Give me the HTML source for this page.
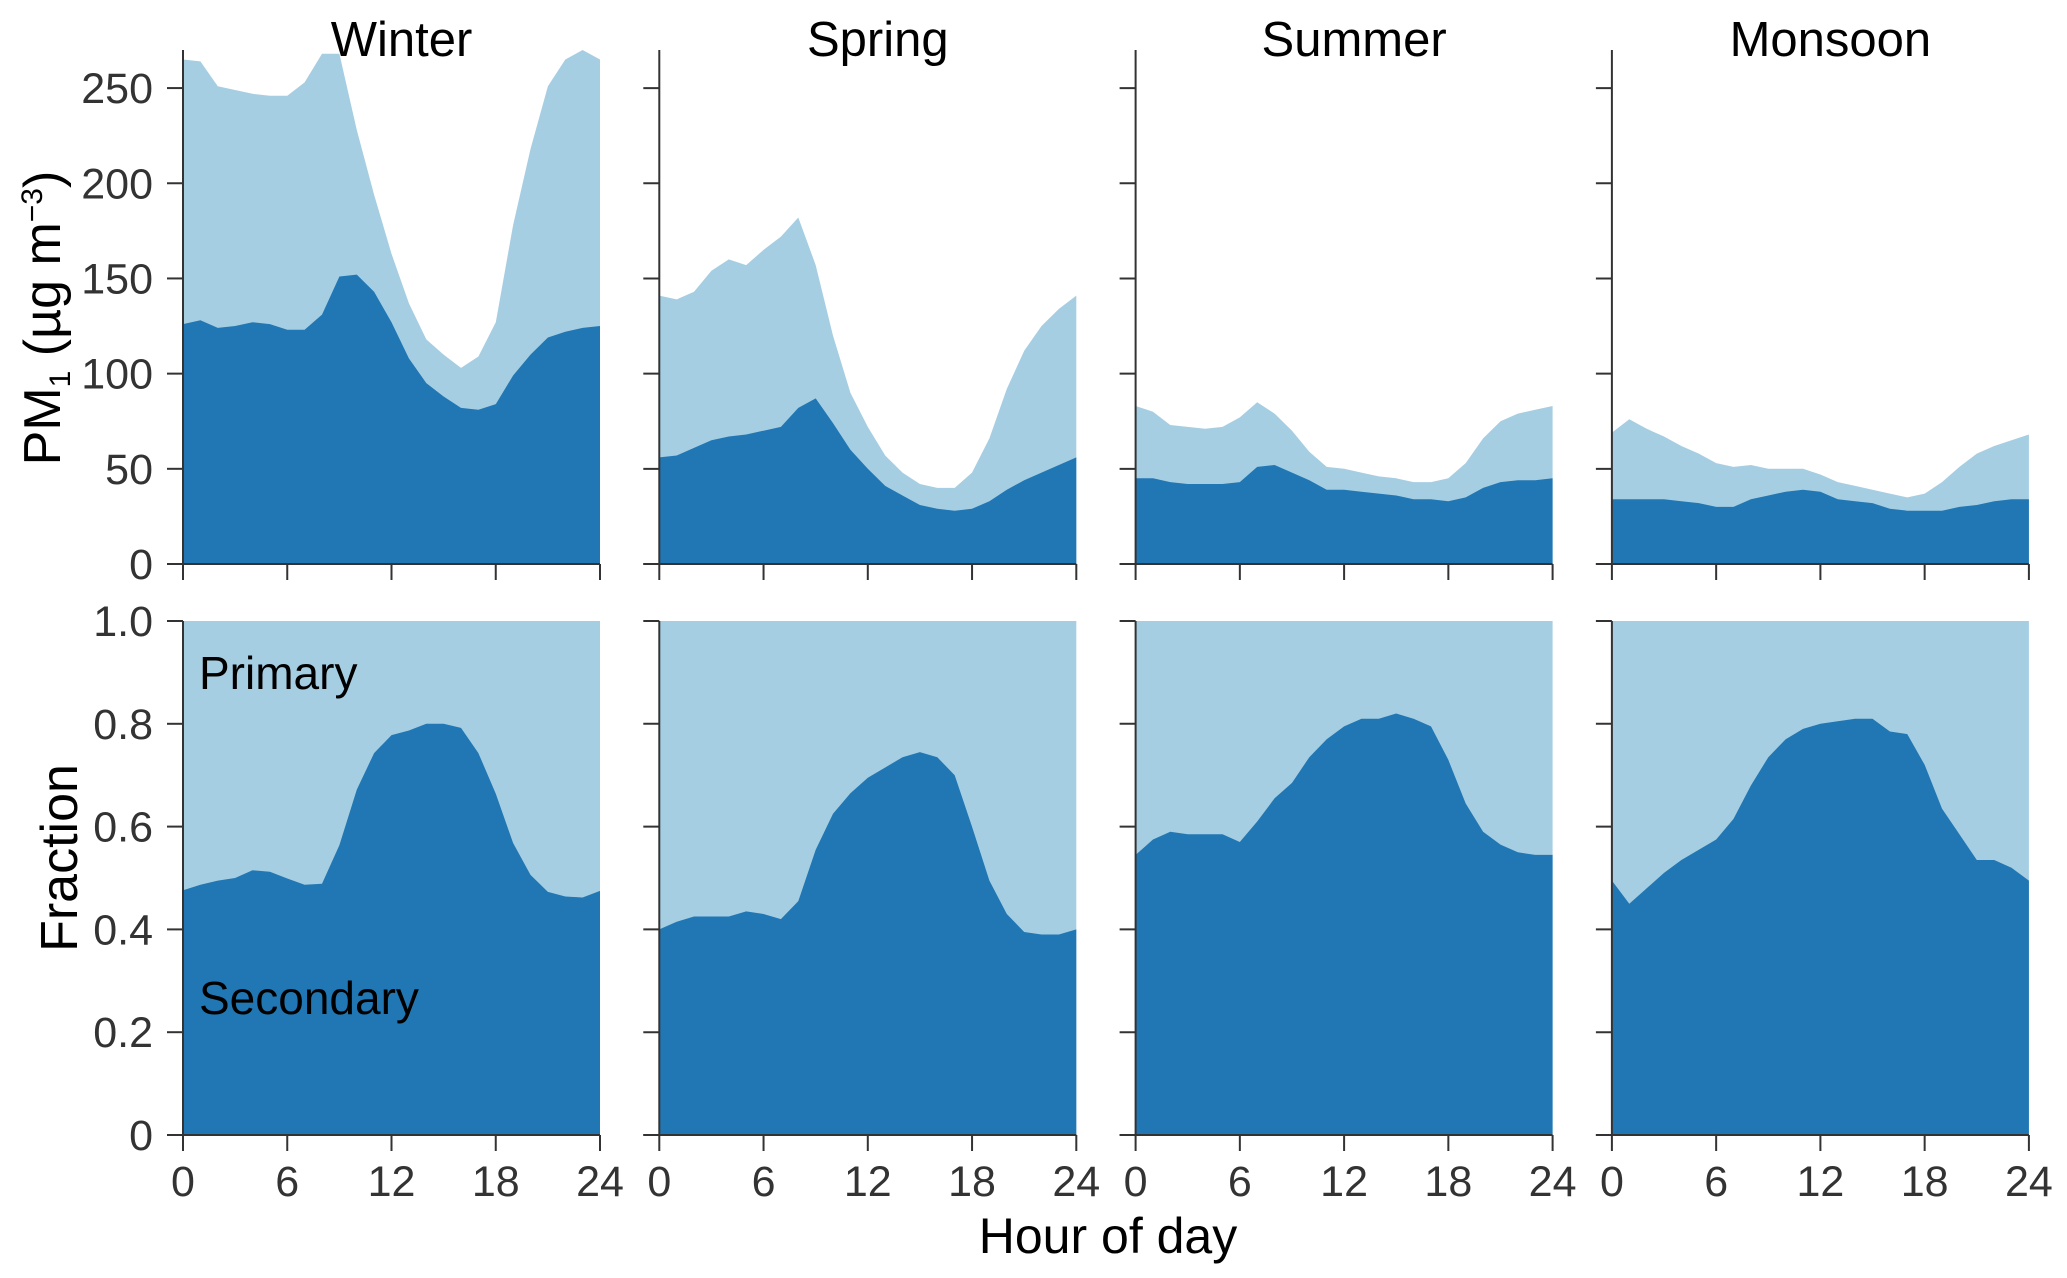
<!DOCTYPE html>
<html><head><meta charset="utf-8"><style>
html,body{margin:0;padding:0;background:#fff;}
svg{display:block;font-family:"Liberation Sans",Arial,sans-serif;}
</style></head><body>
<svg id="chart" width="2067" height="1278" viewBox="0 0 2067 1278" xmlns="http://www.w3.org/2000/svg"></svg>
<script>
const seasons = ["Winter","Spring","Summer","Monsoon"];
const hours = [0,1,2,3,4,5,6,7,8,9,10,11,12,13,14,15,16,17,18,19,20,21,22,23,24];
const totalWinter = [265,264,251,249,247,246,246,253,268,268,228,194,163,137,118,110,103,109,127,178,218,251,265,270,265];
const secWinter = [126,128,124,125,127,126,123,123,131,151,152,143,127,108,95,88,82,81,84,99,110,119,122,124,125];
const totalSpring = [141,139,143,154,160,157,165,172,182,157,120,90,72,57,48,42,40,40,48,66,92,112,125,134,141];
const secSpring = [56,57,61,65,67,68,70,72,82,87,74,60,50,41,36,31,29,28,29,33,39,44,48,52,56];
const totalSummer = [83,80,73,72,71,72,77,85,79,70,59,51,50,48,46,45,43,43,45,53,66,75,79,81,83];
const secSummer = [45,45,43,42,42,42,43,51,52,48,44,39,39,38,37,36,34,34,33,35,40,43,44,44,45];
const totalMonsoon = [69,76,71,67,62,58,53,51,52,50,50,50,47,43,41,39,37,35,37,43,51,58,62,65,68];
const secMonsoon = [34,34,34,34,33,32,30,30,34,36,38,39,38,34,33,32,29,28,28,28,30,31,33,34,34];
const fracWinter = [0.476,0.487,0.495,0.5,0.515,0.512,0.499,0.487,0.489,0.564,0.672,0.743,0.778,0.787,0.8,0.8,0.792,0.743,0.664,0.568,0.506,0.473,0.464,0.462,0.475];
const fracSpring = [0.40,0.415,0.425,0.425,0.425,0.435,0.43,0.42,0.455,0.555,0.625,0.665,0.695,0.715,0.735,0.745,0.735,0.70,0.60,0.495,0.43,0.395,0.39,0.39,0.40];
const fracSummer = [0.545,0.575,0.59,0.585,0.585,0.585,0.57,0.61,0.655,0.685,0.735,0.77,0.795,0.81,0.81,0.82,0.81,0.795,0.73,0.645,0.59,0.565,0.55,0.545,0.545];
const fracMonsoon = [0.495,0.45,0.48,0.51,0.535,0.555,0.575,0.615,0.68,0.735,0.77,0.79,0.80,0.805,0.81,0.81,0.785,0.78,0.72,0.635,0.585,0.535,0.535,0.52,0.495];
const topTicks = [0,50,100,150,200,250];
const fracTicks = [0,0.2,0.4,0.6,0.8,1.0];
const fracTickLabels = ["0","0.2","0.4","0.6","0.8","1.0"];
const xTicks = [0,6,12,18,24];

const totals=[totalWinter,totalSpring,totalSummer,totalMonsoon];
const secs=[secWinter,secSpring,secSummer,secMonsoon];
const fracs=[fracWinter,fracSpring,fracSummer,fracMonsoon];

const NS="http://www.w3.org/2000/svg";
const svg=document.getElementById('chart');
const PW=417, TOP_Y0=564, TOP_Y1=50, TOP_MAX=270, BOT_Y0=1135, BOT_Y1=621;
const DARK="#2077b4", LIGHT="#a6cee3", AX="#333";
function px(i){return 183+i*476.3;}
function xs(i,h){return px(i)+h/24*PW;}
function yt(v){return TOP_Y0-(v/TOP_MAX)*(TOP_Y0-TOP_Y1);}
function yb(v){return BOT_Y0-v*(BOT_Y0-BOT_Y1);}
function el(tag,attrs,parent){const e=document.createElementNS(NS,tag);for(const k in attrs)e.setAttribute(k,attrs[k]);(parent||svg).appendChild(e);return e;}
function area(i,vals,yf){let d="M"+xs(i,0)+","+yf(0);hours.forEach((h,k)=>{d+=" L"+xs(i,h).toFixed(1)+","+yf(vals[k]).toFixed(1);});d+=" L"+xs(i,24)+","+yf(0)+"Z";return d;}
function txt(s,attrs,parent){const t=el('text',attrs,parent);t.textContent=s;return t;}

seasons.forEach((s,i)=>{
  const g=el('g',{});
  
  
  let a=el('path',{d:area(i,totals[i],yt),fill:LIGHT},g);
  
  
  a=el('path',{d:area(i,secs[i],yt),fill:DARK},g);
  
  
  a=el('path',{d:area(i,hours.map(()=>1),yb),fill:LIGHT},g);
  
  
  a=el('path',{d:area(i,fracs[i],yb),fill:DARK},g);
  
  
  const x0=px(i);
  el('line',{x1:x0,y1:TOP_Y1,x2:x0,y2:TOP_Y0,stroke:AX,'stroke-width':2},g);
  el('line',{x1:x0-16,y1:TOP_Y0,x2:x0+PW,y2:TOP_Y0,stroke:AX,'stroke-width':2},g);
  el('line',{x1:x0,y1:BOT_Y1,x2:x0,y2:BOT_Y0,stroke:AX,'stroke-width':2},g);
  el('line',{x1:x0-16,y1:BOT_Y0,x2:x0+PW,y2:BOT_Y0,stroke:AX,'stroke-width':2},g);
  topTicks.forEach(v=>{
    el('line',{x1:x0-16,y1:yt(v),x2:x0,y2:yt(v),stroke:AX,'stroke-width':2},g);
    if(i===0){const t=txt(String(v),{x:x0-30,y:yt(v)+15,'text-anchor':'end','font-size':43,fill:AX},g);
      
      }
  });
  fracTicks.forEach((v,k)=>{
    el('line',{x1:x0-16,y1:yb(v),x2:x0,y2:yb(v),stroke:AX,'stroke-width':2},g);
    if(i===0){const t=txt(fracTickLabels[k],{x:x0-30,y:yb(v)+15,'text-anchor':'end','font-size':43,fill:AX},g);
      
      }
  });
  xTicks.forEach(h=>{
    el('line',{x1:xs(i,h),y1:TOP_Y0,x2:xs(i,h),y2:TOP_Y0+16,stroke:AX,'stroke-width':2},g);
    el('line',{x1:xs(i,h),y1:BOT_Y0,x2:xs(i,h),y2:BOT_Y0+16,stroke:AX,'stroke-width':2},g);
    const t=txt(String(h),{x:xs(i,h),y:1196,'text-anchor':'middle','font-size':43,fill:AX},g);
    
    
  });
  const tt=txt(s,{x:x0+PW/2+10,y:56,'text-anchor':'middle','font-size':49,fill:'#000'},g);
  
  
});
</script>
<svg style="position:absolute;left:0;top:0" width="2067" height="1278" xmlns="http://www.w3.org/2000/svg" font-family="Liberation Sans, Arial, sans-serif">
  <text transform="translate(60,318) rotate(-90)" text-anchor="middle" font-size="52" fill="#000">PM<tspan font-size="30" dy="10">1</tspan><tspan dy="-10"> (µg m</tspan><tspan font-size="30" dy="-18">−3</tspan><tspan dy="18">)</tspan></text>
  <text transform="translate(77,858) rotate(-90)" text-anchor="middle" font-size="52" fill="#000">Fraction</text>
  <text x="199" y="689" font-size="46" fill="#000">Primary</text>
  <text x="199" y="1014" font-size="46" fill="#000">Secondary</text>
  <text x="1108" y="1253" text-anchor="middle" font-size="50" fill="#000">Hour of day</text>
</svg>
</body></html>
